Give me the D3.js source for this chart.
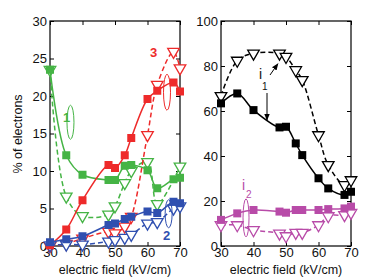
<!DOCTYPE html>
<html>
<head>
<meta charset="utf-8">
<script src="https://cdn.jsdelivr.net/npm/d3@7"></script>
<style>
  body { margin: 0; background: #fff; }
  svg text { font-family: "Liberation Sans", Arial, sans-serif; }
</style>
</head>
<body>
<svg id="chart" width="387" height="277"></svg>
<script>
// left panel: fractions of electrons per channel (1 green, 2 blue, 3 red)
const fieldG1 = [30, 35, 40, 48, 50, 53, 55, 60, 63, 68, 70];
const green1Solid = [23.5, 12.1, 9.5, 8.8, 8.8, 10.7, 10.8, 10.1, 7.7, 8.9, 9.1];
const fieldG1d = [30, 35, 40, 48, 50, 53, 55, 60, 63, 70];
const green1Dash = [23.5, 6.6, 4.0, 4.2, 5.3, 8.4, 10.0, 11.2, 5.6, 10.6];

const fieldR3 = [30, 35, 40, 48, 50, 53, 55, 60, 63, 68, 70];
const red3Solid = [0.1, 2.2, 6.1, 10.8, 10.4, 12.1, 14.4, 19.6, 20.7, 21.8, 20.6];
const fieldR3d = [30, 35, 40, 48, 50, 53, 55, 60, 63, 68, 70];
const red3Dash = [0.0, 0.3, 1.0, 1.9, 1.7, 2.6, 3.9, 14.8, 21.5, 25.9, 23.7];

const fieldB2 = [30, 35, 40, 48, 50, 53, 55, 60, 63, 68, 70];
const blue2Solid = [0.5, 0.9, 1.3, 2.8, 3.0, 3.6, 3.9, 4.6, 4.4, 5.9, 5.7];
const fieldB2d = [30, 35, 40, 48, 50, 53, 55, 60, 63, 68, 70];
const blue2Dash = [0.1, 0.2, 0.2, 0.6, 0.8, 1.1, 1.5, 3.0, 3.2, 5.0, 5.3];

// right panel: i1 (black) and i2 (magenta)
const fieldI = [30, 35, 40, 48, 50, 53, 55, 60, 63, 68, 70];
const i1Solid = [63.4, 67.8, 60.4, 52.7, 53.0, 45.6, 40.4, 30.1, 25.6, 22.7, 24.1];
const fieldI1d = [30, 35, 40, 48, 50, 53, 55, 60, 63, 68, 70];
const i1Dash = [66.7, 82.4, 85.6, 85.6, 84.1, 78.2, 73.8, 49.3, 36.0, 27.1, 29.3];
const i2Solid = [11.6, 14.5, 16.0, 15.3, 14.8, 16.0, 16.0, 16.0, 16.4, 16.7, 17.5];
const i2Dash = [9.3, 9.3, 7.1, 5.6, 4.4, 5.9, 5.9, 9.3, 13.3, 13.8, 14.8];

const xTicks = [30, 40, 50, 60, 70];
const leftTicks = [0, 5, 10, 15, 20, 25, 30];
const rightTicks = [0, 20, 40, 60, 80, 100];

const GREEN = "#45b445", RED = "#ee2a2a", BLUE = "#2f4fb0", MAG = "#b84ba8";

const svg = d3.select("#chart");

function panel(x0, x1, yMax, yTicks) {
  const x = d3.scaleLinear().domain([30, 70]).range([x0, x1]);
  const y = d3.scaleLinear().domain([0, yMax]).range([246, 21]);
  const g = svg.append("g");
  g.append("rect").attr("x", x0).attr("y", 21).attr("width", x1 - x0).attr("height", 225)
    .attr("fill", "none").attr("stroke", "#000").attr("stroke-width", 1.2);
  const tk = 4;
  const ax = (axis, tr) => {
    const a = g.append("g").attr("transform", tr).call(axis);
    a.select(".domain").remove();
    a.selectAll("line").attr("stroke", "#000").attr("stroke-width", 1);
    return a;
  };
  ax(d3.axisBottom(x).tickValues(xTicks).tickSize(-tk).tickPadding(2), "translate(0,246)")
    .selectAll("text").attr("font-size", 13).attr("fill", "#111");
  ax(d3.axisTop(x).tickValues(xTicks).tickSize(-tk).tickFormat(""), "translate(0,21)");
  ax(d3.axisLeft(y).tickValues(yTicks).tickSize(-tk).tickPadding(3), `translate(${x0},0)`)
    .selectAll("text").attr("font-size", 13).attr("fill", "#111");
  ax(d3.axisRight(y).tickValues(yTicks).tickSize(-tk).tickFormat(""), `translate(${x1},0)`);
  g.append("text").attr("x", (x0 + x1) / 2).attr("y", 274).attr("text-anchor", "middle")
    .attr("font-size", 12.5).attr("fill", "#111").text("electric field (kV/cm)");
  return { x, y, g };
}

const L = panel(50, 180, 30, leftTicks);
const R = panel(221, 351, 100, rightTicks);

svg.append("text").attr("transform", "translate(22,134) rotate(-90)")
  .attr("text-anchor", "middle").attr("font-size", 12.5).attr("fill", "#111").text("% of electrons");

function series(p, xs, ys, color, dashed, marker) {
  const pts = xs.map((v, i) => [v, ys[i]]);
  const line = d3.line().x(d => p.x(d[0])).y(d => p.y(d[1])).curve(d3.curveCatmullRom.alpha(0.5));
  p.g.append("path").datum(pts).attr("d", line).attr("fill", "none")
    .attr("stroke", color).attr("stroke-width", 1.5)
    .attr("stroke-dasharray", dashed ? "5,3" : null);
  if (marker === "sq") {
    p.g.selectAll(null).data(pts).enter().append("rect")
      .attr("x", d => p.x(d[0]) - 4).attr("y", d => p.y(d[1]) - 4)
      .attr("width", 8).attr("height", 8).attr("fill", color);
  } else {
    const tri = d3.symbol().type(d3.symbolTriangle).size(58);
    p.g.selectAll(null).data(pts).enter().append("path")
      .attr("d", tri)
      .attr("transform", d => `translate(${p.x(d[0])},${p.y(d[1])}) rotate(180)`)
      .attr("fill", "#fff").attr("stroke", color).attr("stroke-width", 1.3);
  }
}

series(L, fieldG1d, green1Dash, GREEN, true, "tri");
series(L, fieldR3d, red3Dash, RED, true, "tri");
series(L, fieldB2d, blue2Dash, BLUE, true, "tri");
series(L, fieldG1, green1Solid, GREEN, false, "sq");
series(L, fieldR3, red3Solid, RED, false, "sq");
series(L, fieldB2, blue2Solid, BLUE, false, "sq");

series(R, fieldI1d, i1Dash, "#000", true, "tri");
series(R, fieldI, i1Solid, "#000", false, "sq");
series(R, fieldI, i2Dash, MAG, true, "tri");
series(R, fieldI, i2Solid, MAG, false, "sq");

// annotations: ellipses and labels
function ell(cx, cy, rx, ry, color) {
  svg.append("ellipse").attr("cx", cx).attr("cy", cy).attr("rx", rx).attr("ry", ry)
    .attr("fill", "none").attr("stroke", color).attr("stroke-width", 1);
}
function lab(x, y, t, color, size) {
  svg.append("text").attr("x", x).attr("y", y).attr("fill", color)
    .attr("font-size", size || 13).attr("font-weight", "bold").text(t);
}
ell(L.x(36.3), L.y(16.5), 3.5, 17, GREEN);
lab(63, 122, "1", GREEN);
ell(L.x(66), L.y(20.5), 3.5, 18, RED);
lab(150, 57, "3", RED);
ell(L.x(66.5), L.y(4.3), 3.5, 14, BLUE);
lab(163, 240, "2", BLUE);

// i1 arrows
const defs = svg.append("defs");
defs.append("marker").attr("id", "ah").attr("viewBox", "0 0 10 10").attr("refX", 9).attr("refY", 5)
  .attr("markerWidth", 7).attr("markerHeight", 7).attr("orient", "auto")
  .append("path").attr("d", "M0,1 L10,5 L0,9 Z").attr("fill", "#000");
svg.append("text").attr("x", 259).attr("y", 79).attr("font-size", 14).attr("fill", "#111").text("i");
svg.append("text").attr("x", 262).attr("y", 90).attr("font-size", 10).attr("fill", "#111").text("1");
svg.append("line").attr("x1", 270).attr("y1", 75).attr("x2", R.x(47.5)).attr("y2", R.y(81))
  .attr("stroke", "#000").attr("stroke-width", 1).attr("marker-end", "url(#ah)");
svg.append("line").attr("x1", 267).attr("y1", 93).attr("x2", 267).attr("y2", 120)
  .attr("stroke", "#000").attr("stroke-width", 1).attr("marker-end", "url(#ah)");

// i2 label
svg.append("text").attr("x", 242).attr("y", 190).attr("font-size", 14).attr("fill", MAG).text("i");
svg.append("text").attr("x", 246).attr("y", 198).attr("font-size", 10).attr("fill", MAG).text("2");
ell(R.x(37.7), R.y(12.5), 3, 19, MAG);
</script>
</body>
</html>
